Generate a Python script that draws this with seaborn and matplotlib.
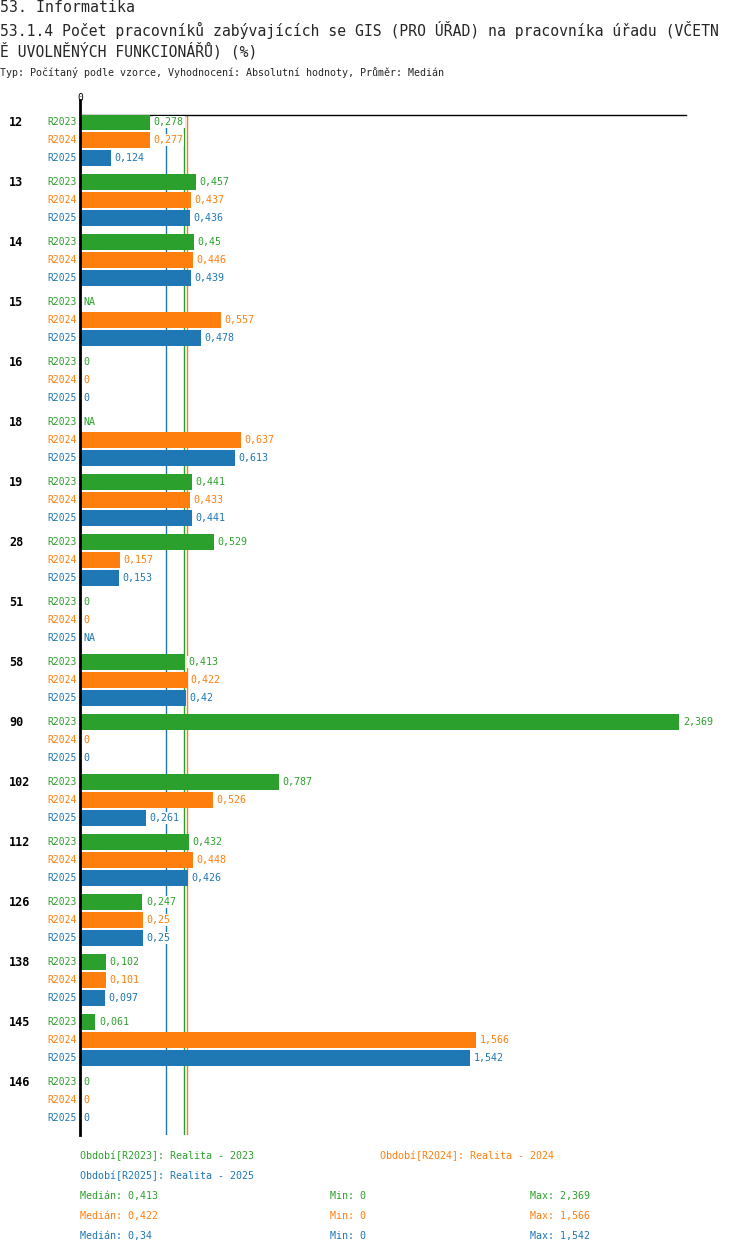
import numpy as np
import pandas as pd
import matplotlib
matplotlib.use("Agg")
import matplotlib.pyplot as plt
import matplotlib.transforms as mtransforms
import seaborn as sns

# chart data
groups = ["12", "13", "14", "15", "16", "18", "19", "28", "51", "58",
          "90", "102", "112", "126", "138", "145", "146"]
periods = ["R2023", "R2024", "R2025"]
r2023 = [0.278, 0.457, 0.45, np.nan, 0, np.nan, 0.441, 0.529, 0, 0.413,
         2.369, 0.787, 0.432, 0.247, 0.102, 0.061, 0]
r2024 = [0.277, 0.437, 0.446, 0.557, 0, 0.637, 0.433, 0.157, 0, 0.422,
         0, 0.526, 0.448, 0.25, 0.101, 1.566, 0]
r2025 = [0.124, 0.436, 0.439, 0.478, 0, 0.613, 0.441, 0.153, np.nan, 0.42,
         0, 0.261, 0.426, 0.25, 0.097, 1.542, 0]
medians = [0.413, 0.422, 0.34]
mins = [0, 0, 0]
maxs = [2.369, 1.566, 1.542]
legend_names = ["Období[R2023]: Realita - 2023",
                "Období[R2024]: Realita - 2024",
                "Období[R2025]: Realita - 2025"]
colors = ["#2ca02c", "#ff7f0e", "#1f77b4"]

series = [r2023, r2024, r2025]
df = pd.DataFrame({
    "group": np.repeat(groups, 3),
    "period": periods * len(groups),
    "value": [series[j][i] for i in range(len(groups)) for j in range(3)],
})


def fmt(v):
    if np.isnan(v):
        return "NA"
    return f"{v:g}".replace(".", ",")


sns.set_style("white")
plt.rcParams["font.family"] = ["DejaVu Sans Mono"]

W, H = 750, 1254
fig = plt.figure(figsize=(W / 100, H / 100), dpi=100)
# axes in pixel box: x 80..686, y 115..1135
ax = fig.add_axes([80 / W, 1 - 1135 / H, 606 / W, 1020 / H])

sns.barplot(data=df.fillna(0), y="group", x="value", hue="period",
            hue_order=periods, palette=colors, orient="h", width=0.9,
            gap=0.12, order=groups, legend=False, ax=ax, zorder=3,
            saturation=1, errorbar=None, linewidth=0, edgecolor="none")

ax.set_xlim(0, 606 / 253.0)
ax.set_ylim(16.583, -0.4167)
ax.set_xlabel("")
ax.set_ylabel("")
ax.set_xticks([])
ax.set_yticks([])
for s in ["right", "bottom"]:
    ax.spines[s].set_visible(False)
ax.spines["top"].set_color("black")
ax.spines["top"].set_linewidth(1)
ax.spines["left"].set_color("black")
ax.spines["left"].set_linewidth(2)
ax.spines["left"].set_bounds(-0.667, 16.583)
ax.spines["left"].set_zorder(5)

for m, c in zip(medians, colors):
    ax.axvline(m, color=c, lw=1, zorder=1)

ax.text(0, -0.62, "0", fontsize=7, ha="center", va="bottom", color="black")

slot = 0.9 / 3
grp_tr = mtransforms.blended_transform_factory(fig.transFigure, ax.transData)
for i, g in enumerate(groups):
    ax.text(9 / W, i - slot, g, transform=grp_tr, fontsize=8.5,
            fontweight="bold", ha="left", va="center", color="black")
    for j in range(3):
        y = i + (j - 1) * slot
        v = series[j][i]
        ax.annotate(periods[j], xy=(0, y), xytext=(-2, 0),
                    textcoords="offset points", ha="right", va="center",
                    fontsize=7, color=colors[j])
        xv = 0 if np.isnan(v) else v
        ax.annotate(fmt(v), xy=(xv, y), xytext=(2.5, 0),
                    textcoords="offset points", ha="left", va="center",
                    fontsize=7.2, color=colors[j], zorder=4,
                    bbox=dict(facecolor="white", edgecolor="none", pad=0.5))

# titles
fig.text(0, 1 - 8 / H, "53. Informatika", fontsize=10.7,
         ha="left", va="center")
fig.text(0, 1 - 30 / H,
         "53.1.4 Počet pracovníků zabývajících se GIS (PRO ÚŘAD) na pracovníka úřadu (VČETN",
         fontsize=10.6, ha="left", va="center")
fig.text(0, 1 - 51 / H, "Ě UVOLNĚNÝCH FUNKCIONÁŘŮ) (%)", fontsize=10.6,
         ha="left", va="center")
fig.text(0, 1 - 73 / H,
         "Typ: Počítaný podle vzorce, Vyhodnocení: Absolutní hodnoty, Průměr: Medián",
         fontsize=7.2, ha="left", va="center")

# legend / stats
fig.text(80 / W, 1 - 1156 / H, legend_names[0], fontsize=7.2, color=colors[0],
         va="center")
fig.text(380 / W, 1 - 1156 / H, legend_names[1], fontsize=7.2, color=colors[1],
         va="center")
fig.text(80 / W, 1 - 1176 / H, legend_names[2], fontsize=7.2, color=colors[2],
         va="center")
for j in range(3):
    yy = 1 - (1196 + 20 * j) / H
    fig.text(80 / W, yy, "Medián: " + fmt(medians[j]), fontsize=7.2,
             color=colors[j], va="center")
    fig.text(330 / W, yy, "Min: " + fmt(mins[j]), fontsize=7.2,
             color=colors[j], va="center")
    fig.text(530 / W, yy, "Max: " + fmt(maxs[j]), fontsize=7.2,
             color=colors[j], va="center")

fig.savefig("out.png", dpi=100, facecolor="white")
